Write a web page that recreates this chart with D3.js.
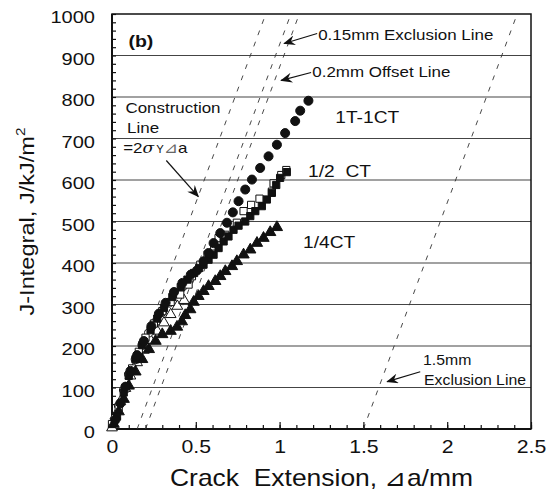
<!DOCTYPE html>
<html>
<head>
<meta charset="utf-8">
<script src="https://cdn.jsdelivr.net/npm/d3@7/dist/d3.min.js"></script>
<style>
body { margin: 0; background: #fff; }
text { font-family: Arial, "Liberation Sans", sans-serif; fill: #111; }
</style>
</head>
<body>
<div id="chart"></div>
<script>
// tick values
const xTicks = [0, 0.5, 1, 1.5, 2, 2.5];
const yTicks = [0, 100, 200, 300, 400, 500, 600, 700, 800, 900, 1000];

// [crack extension mm, J kJ/m2]
const circFilled = [[0.02,22],[0.05,62],[0.08,102],[0.11,140],[0.15,178],[0.19,212],[0.235,248],[0.28,278],[0.32,304],[0.37,330],[0.42,352],[0.47,372],[0.507,382],[0.546,404],[0.576,424],[0.606,448],[0.646,472],[0.686,497],[0.721,522],[0.755,549],[0.795,577],[0.835,601],[0.884,629],[0.934,657],[0.984,685],[1.033,713],[1.093,742],[1.123,767],[1.172,791]];
const circOpen = [[0.01,16],[0.04,56],[0.07,94],[0.1,132],[0.14,168],[0.18,202],[0.22,232],[0.26,258],[0.3,282],[0.34,304],[0.38,326],[0.42,342],[0.46,358]];
const sqFilled = [[0.03,30],[0.07,88],[0.1,128],[0.14,168],[0.18,202],[0.23,238],[0.27,266],[0.31,292],[0.36,318],[0.41,342],[0.45,360],[0.49,376],[0.52,388],[0.546,396],[0.576,408],[0.606,420],[0.636,436],[0.666,452],[0.695,464],[0.725,480],[0.755,490],[0.795,500],[0.825,513],[0.855,525],[0.894,537],[0.924,553],[0.954,569],[0.98,588],[1.003,605],[1.043,619]];
const sqOpen = [[0,12],[0.04,52],[0.08,98],[0.12,146],[0.16,186],[0.2,220],[0.25,254],[0.3,284],[0.35,306],[0.407,324],[0.457,348],[0.477,368],[0.527,396],[0.57,420],[0.61,440],[0.636,460],[0.676,468],[0.745,497],[0.785,525],[0.83,540],[0.88,555],[0.954,572],[0.964,592],[1.01,612],[1.04,624]];
const triFilled = [[0.01,12],[0.04,42],[0.07,72],[0.1,104],[0.14,138],[0.18,168],[0.22,192],[0.26,212],[0.3,228],[0.35,236],[0.388,246],[0.417,259],[0.437,274],[0.467,288],[0.487,306],[0.516,320],[0.546,332],[0.576,344],[0.616,356],[0.646,368],[0.676,380],[0.716,392],[0.745,404],[0.785,420],[0.825,432],[0.865,448],[0.904,460],[0.944,474],[0.984,486]];
const triOpen = [[0,3],[0.02,32],[0.05,66],[0.08,98],[0.11,128],[0.15,160],[0.19,190],[0.23,214],[0.27,236],[0.31,256],[0.35,276],[0.39,296],[0.43,310]];

// construction line slope (2 sigma_Y) and offsets of the dashed lines
const slope = 1090;
const lineOffsets = [0, 0.15, 0.2, 1.5];

const margin = {top: 14, right: 24, bottom: 64, left: 112};
const width = 555 - margin.left - margin.right;
const height = 493 - margin.top - margin.bottom;

const svg = d3.select("#chart").append("svg")
    .attr("width", 555)
    .attr("height", 493);
const g = svg.append("g")
    .attr("transform", "translate(" + margin.left + "," + margin.top + ")");

const x = d3.scaleLinear().domain([0, 2.5]).range([0, width]);
const y = d3.scaleLinear().domain([0, 1000]).range([height, 0]);

// widen text along its reading direction, anchored at its x/y
function stretch(sel, k) {
    sel.each(function() {
        const t = d3.select(this);
        const tx = +t.attr("x") || 0, ty = +t.attr("y") || 0;
        const prev = t.attr("transform") || "";
        t.attr("x", 0).attr("y", 0)
            .attr("transform", prev + " translate(" + tx + "," + ty + ") scale(" + k + ",1)");
    });
}

svg.append("defs").append("clipPath").attr("id", "clip")
    .append("rect").attr("width", width).attr("height", height);
svg.select("defs").append("marker")
    .attr("id", "arrow")
    .attr("viewBox", "0 0 12 10")
    .attr("refX", 11).attr("refY", 5)
    .attr("markerWidth", 12).attr("markerHeight", 10)
    .attr("markerUnits", "userSpaceOnUse")
    .attr("orient", "auto")
    .append("path")
    .attr("d", "M0,0 L12,5 L0,10 L4,5 Z")
    .attr("fill", "#111");

// gridlines
g.append("g").selectAll("line")
    .data(yTicks.filter(d => d > 0 && d < 1000))
    .enter().append("line")
    .attr("x1", 0).attr("x2", width)
    .attr("y1", d => y(d)).attr("y2", d => y(d))
    .attr("stroke", "#444").attr("stroke-width", 1.1);

// minor ticks
const xMinor = d3.range(0, 2.5001, 0.1);
g.append("g").attr("class", "x-minor")
    .attr("transform", "translate(0," + height + ")")
    .call(d3.axisBottom(x).tickValues(xMinor).tickSize(-4).tickFormat(""))
    .call(a => a.select(".domain").remove());
const yMinor = d3.range(0, 1001, 20);
g.append("g").attr("class", "y-minor")
    .call(d3.axisLeft(y).tickValues(yMinor).tickSize(-4).tickFormat(""))
    .call(a => a.select(".domain").remove());

// major axes
g.append("g").attr("class", "x-axis")
    .attr("transform", "translate(0," + height + ")")
    .call(d3.axisBottom(x).tickValues(xTicks).tickSize(-7).tickPadding(11)
        .tickFormat(d3.format("")))
    .call(a => a.select(".domain").remove())
    .call(a => a.selectAll("text").attr("font-size", 18).attr("font-family", "Arial, 'Liberation Sans', sans-serif").attr("fill", "#111"));
g.append("g").attr("class", "y-axis")
    .call(d3.axisLeft(y).tickValues(yTicks).tickSize(0).tickPadding(17).tickFormat(d3.format("d")))
    .call(a => a.select(".domain").remove())
    .call(a => a.selectAll("text").attr("font-size", 17).attr("dy", "0.5em").attr("font-family", "Arial, 'Liberation Sans', sans-serif").attr("fill", "#111"));
g.selectAll(".x-minor line, .y-minor line, .x-axis line").attr("stroke", "#111").attr("stroke-width", 1.2);
stretch(g.selectAll(".x-axis text, .y-axis text"), 1.18);

// frame
g.append("rect").attr("width", width).attr("height", height)
    .attr("fill", "none").attr("stroke", "#111").attr("stroke-width", 1.5);
g.append("line").attr("x1", 0).attr("x2", 0).attr("y1", 0).attr("y2", height)
    .attr("stroke", "#111").attr("stroke-width", 2);
g.append("line").attr("x1", 0).attr("x2", width).attr("y1", height).attr("y2", height)
    .attr("stroke", "#111").attr("stroke-width", 2);

// dashed construction / exclusion lines
g.append("g").attr("clip-path", "url(#clip)").selectAll("line")
    .data(lineOffsets).enter().append("line")
    .attr("x1", d => x(d)).attr("y1", y(0))
    .attr("x2", d => x(d + 1000 / slope)).attr("y2", y(1000))
    .attr("stroke", "#333").attr("stroke-width", 0.9)
    .attr("stroke-dasharray", "5,7");

// data markers
const series = [
    {data: triOpen, shape: d3.symbolTriangle, size: 50, filled: false},
    {data: circOpen, shape: d3.symbolCircle, size: 58, filled: false},
    {data: sqOpen, shape: d3.symbolSquare, size: 52, filled: false},
    {data: triFilled, shape: d3.symbolTriangle, size: 55, filled: true},
    {data: sqFilled, shape: d3.symbolSquare, size: 52, filled: true},
    {data: circFilled, shape: d3.symbolCircle, size: 64, filled: true}
];
series.forEach(s => {
    g.append("g").selectAll("path")
        .data(s.data).enter().append("path")
        .attr("d", d3.symbol().type(s.shape).size(s.size))
        .attr("transform", d => "translate(" + x(d[0]) + "," + y(d[1]) + ")")
        .attr("fill", s.filled ? "#111" : "#fff")
        .attr("stroke", "#111").attr("stroke-width", 1);
});

// arrows [from da, from J, to da, to J]
const arrows = [[1.224, 953, 1.027, 929], [1.188, 859, 1.009, 840], [0.324, 647, 0.515, 560], [1.839, 138, 1.642, 114]];
g.append("g").selectAll("line")
    .data(arrows).enter().append("line")
    .attr("x1", d => x(d[0])).attr("y1", d => y(d[1]))
    .attr("x2", d => x(d[2])).attr("y2", d => y(d[3]))
    .attr("stroke", "#111").attr("stroke-width", 1.2)
    .attr("marker-end", "url(#arrow)");

// annotation labels [text, da, J, font size]
const labels = [
    ["0.15mm Exclusion Line", 1.23, 938, 15],
    ["0.2mm Offset Line", 1.195, 848, 15],
    ["Construction", 0.08, 761, 15],
    ["Line", 0.09, 713, 15],
    ["1T-1CT", 1.332, 738, 17],
    ["1/2  CT", 1.17, 608, 17],
    ["1/4CT", 1.14, 437, 17],
    ["1.5mm", 1.856, 154, 14],
    ["Exclusion Line", 1.862, 105, 14]
];
const labelText = g.append("g").selectAll("text")
    .data(labels).enter().append("text")
    .attr("x", d => x(d[1])).attr("y", d => y(d[2]))
    .attr("font-size", d => d[3])
    .style("white-space", "pre")
    .text(d => d[0]);
stretch(labelText, 1.13);

const formula = g.append("text")
    .attr("x", x(0.067)).attr("y", y(664))
    .attr("font-size", 15);
formula.append("tspan").text("=2");
formula.append("tspan").attr("font-family", "'DejaVu Serif', serif").attr("font-style", "italic").text("σ");
formula.append("tspan").attr("font-size", 10).attr("dx", 2).text("Y");
formula.append("tspan").attr("font-family", "'DejaVu Sans', sans-serif").attr("fill", "#666").text("⊿");
formula.append("tspan").text("a");
stretch(formula, 1.13);

const tag = g.append("text")
    .attr("x", x(0.098)).attr("y", y(920))
    .attr("font-size", 17).attr("font-weight", "bold")
    .text("(b)");
stretch(tag, 1.15);

// axis titles
const xt = svg.append("text")
    .attr("x", margin.left + width / 2).attr("y", 486)
    .attr("text-anchor", "middle").attr("font-size", 23)
    .style("white-space", "pre")
    .text("Crack  Extension, ⊿a/mm");
stretch(xt, 1.15);

const yt = svg.append("text")
    .attr("transform", "translate(34," + (margin.top + height / 2) + ") rotate(-90) scale(1.18,1)")
    .attr("text-anchor", "middle").attr("font-size", 20);
yt.append("tspan").text("J-Integral, J/kJ/m");
yt.append("tspan").attr("font-size", 13).attr("dy", -9).text("2");
</script>
</body>
</html>
